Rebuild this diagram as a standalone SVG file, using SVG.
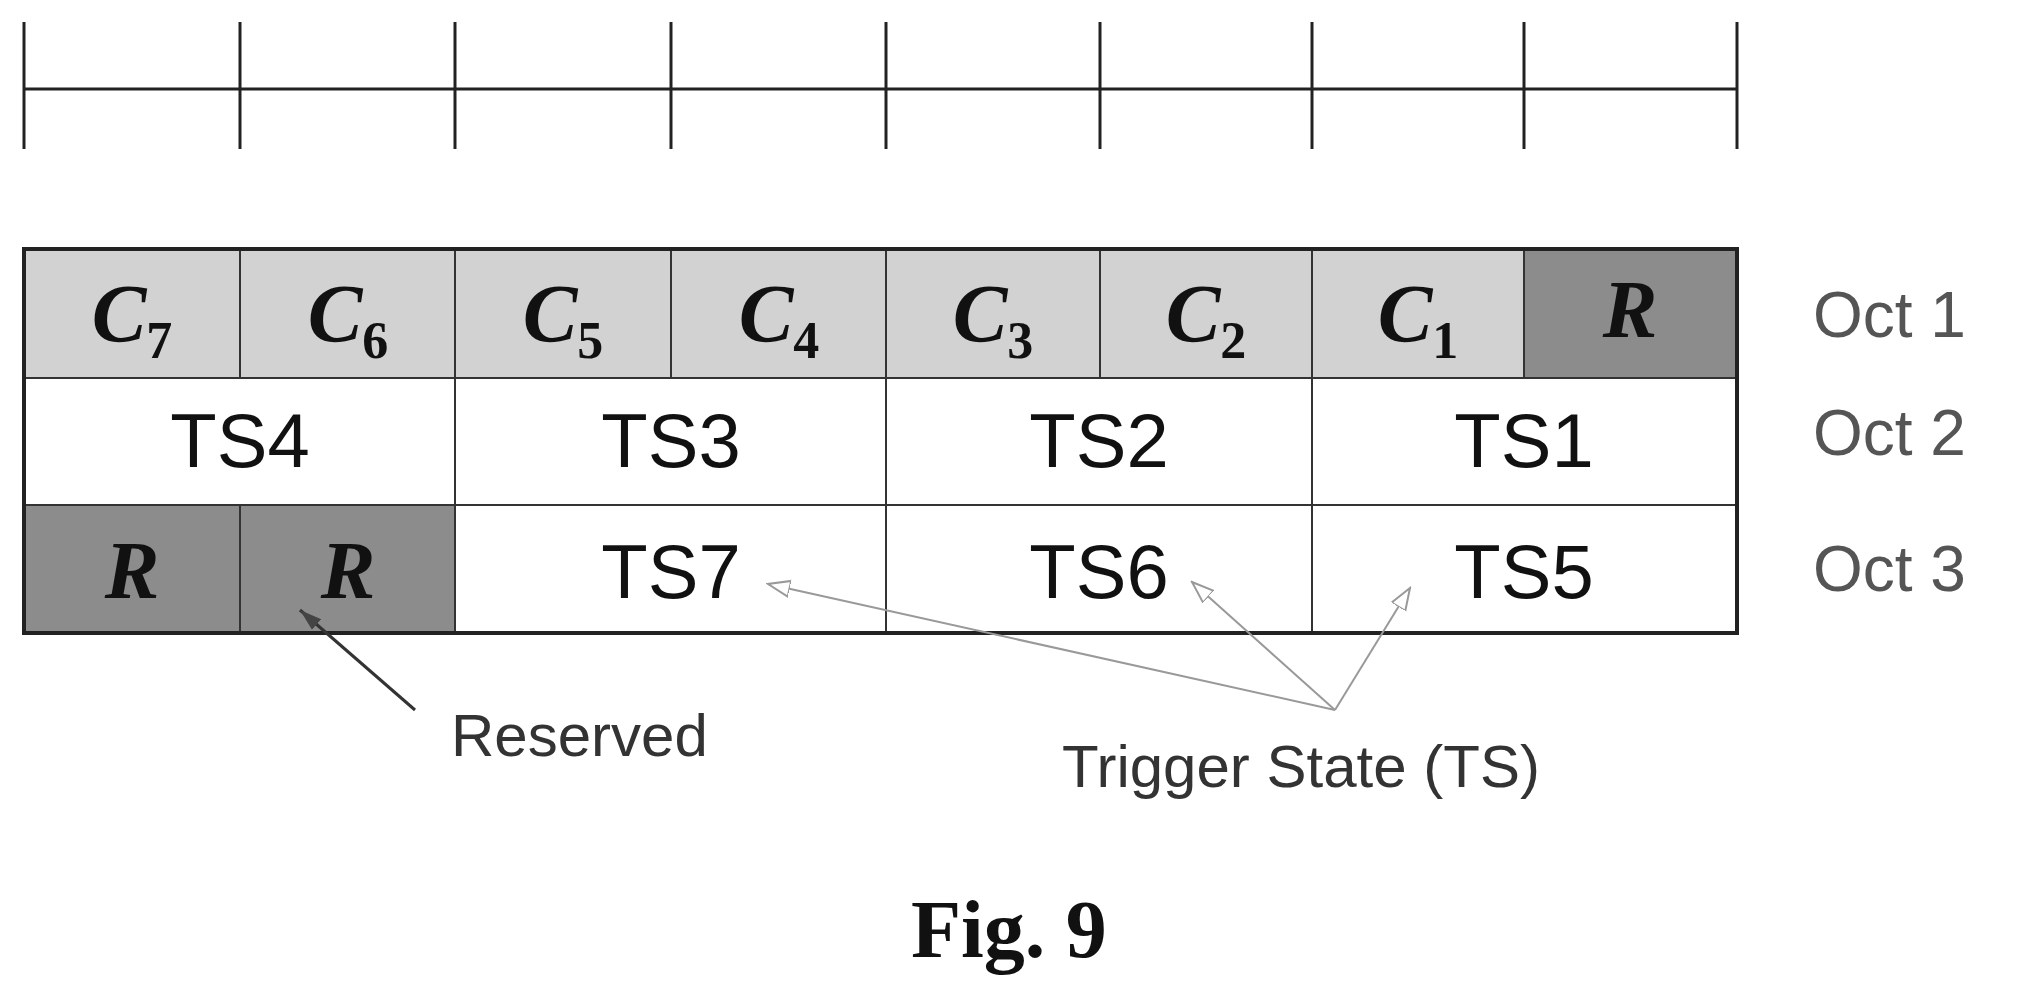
<svg xmlns="http://www.w3.org/2000/svg" width="2017" height="996" viewBox="0 0 2017 996">
<style>
.ln{stroke:#222;stroke-width:3;fill:none}
.lt{fill:#d2d2d2;stroke:#333;stroke-width:2}
.dk{fill:#8c8c8c;stroke:#333;stroke-width:2}
.wh{fill:#fff;stroke:#333;stroke-width:2}
.c{font-family:"Liberation Serif",serif;font-weight:bold;font-style:italic;font-size:82px;fill:#111;text-anchor:middle}
.sub{font-size:52px;font-style:normal}
.ts{font-family:"Liberation Sans",Arial,sans-serif;font-size:76px;fill:#111;text-anchor:middle}
.oct{font-family:"Liberation Sans",Arial,sans-serif;font-size:64px;fill:#555}
.lab{font-family:"Liberation Sans",Arial,sans-serif;font-size:60px;fill:#333}
.fig{font-family:"Liberation Serif",serif;font-weight:bold;font-size:82px;fill:#111}
</style>
<defs>
<marker id="ag" markerWidth="24" markerHeight="20" refX="22" refY="10" orient="auto" markerUnits="userSpaceOnUse"><path d="M0,2 L22,10 L0,18 z" fill="#fff" stroke="#999" stroke-width="2"/></marker>
<marker id="ak" markerWidth="24" markerHeight="20" refX="22" refY="10" orient="auto" markerUnits="userSpaceOnUse"><path d="M0,3 L22,10 L0,17 z" fill="#444"/></marker>
</defs>
<g id="ruler">
<line class="ln" x1="24" y1="89" x2="1737" y2="89"/>
<line class="ln" x1="24" y1="22" x2="24" y2="149"/>
<line class="ln" x1="240" y1="22" x2="240" y2="149"/>
<line class="ln" x1="455" y1="22" x2="455" y2="149"/>
<line class="ln" x1="671" y1="22" x2="671" y2="149"/>
<line class="ln" x1="886" y1="22" x2="886" y2="149"/>
<line class="ln" x1="1100" y1="22" x2="1100" y2="149"/>
<line class="ln" x1="1312" y1="22" x2="1312" y2="149"/>
<line class="ln" x1="1524" y1="22" x2="1524" y2="149"/>
<line class="ln" x1="1737" y1="22" x2="1737" y2="149"/>
</g>
<g id="oct1">
<rect class="lt" x="24" y="249" width="216" height="129"/>
<rect class="lt" x="240" y="249" width="215" height="129"/>
<rect class="lt" x="455" y="249" width="216" height="129"/>
<rect class="lt" x="671" y="249" width="215" height="129"/>
<rect class="lt" x="886" y="249" width="214" height="129"/>
<rect class="lt" x="1100" y="249" width="212" height="129"/>
<rect class="lt" x="1312" y="249" width="212" height="129"/>
<rect class="dk" x="1524" y="249" width="213" height="129"/>
<text class="c" x="132" y="341">C<tspan class="sub" dy="17">7</tspan></text>
<text class="c" x="348" y="341">C<tspan class="sub" dy="17">6</tspan></text>
<text class="c" x="563" y="341">C<tspan class="sub" dy="17">5</tspan></text>
<text class="c" x="779" y="341">C<tspan class="sub" dy="17">4</tspan></text>
<text class="c" x="993" y="341">C<tspan class="sub" dy="17">3</tspan></text>
<text class="c" x="1206" y="341">C<tspan class="sub" dy="17">2</tspan></text>
<text class="c" x="1418" y="341">C<tspan class="sub" dy="17">1</tspan></text>
<text class="c" x="1630" y="337">R</text>
<text class="oct" x="1813" y="337">Oct 1</text>
</g>
<g id="oct2">
<rect class="wh" x="24" y="378" width="431" height="127"/>
<rect class="wh" x="455" y="378" width="431" height="127"/>
<rect class="wh" x="886" y="378" width="426" height="127"/>
<rect class="wh" x="1312" y="378" width="425" height="127"/>
<text class="ts" x="240" y="467">TS4</text>
<text class="ts" x="671" y="467">TS3</text>
<text class="ts" x="1099" y="467">TS2</text>
<text class="ts" x="1524" y="467">TS1</text>
<text class="oct" x="1813" y="455">Oct 2</text>
</g>
<g id="oct3">
<rect class="dk" x="24" y="505" width="216" height="128"/>
<rect class="dk" x="240" y="505" width="215" height="128"/>
<rect class="wh" x="455" y="505" width="431" height="128"/>
<rect class="wh" x="886" y="505" width="426" height="128"/>
<rect class="wh" x="1312" y="505" width="425" height="128"/>
<text class="c" x="132" y="598">R</text>
<text class="c" x="348" y="598">R</text>
<text class="ts" x="671" y="598">TS7</text>
<text class="ts" x="1099" y="598">TS6</text>
<text class="ts" x="1524" y="598">TS5</text>
<text class="oct" x="1813" y="591">Oct 3</text>
</g>
<rect x="24" y="249" width="1713" height="384" fill="none" stroke="#222" stroke-width="4"/>
<g id="connectors">
<line x1="415" y1="710" x2="300" y2="610" stroke="#333" stroke-width="3" marker-end="url(#ak)"/>
<line x1="1335" y1="710" x2="768" y2="584" stroke="#999" stroke-width="2" marker-end="url(#ag)"/>
<line x1="1335" y1="710" x2="1192" y2="582" stroke="#999" stroke-width="2" marker-end="url(#ag)"/>
<line x1="1335" y1="710" x2="1410" y2="588" stroke="#999" stroke-width="2" marker-end="url(#ag)"/>
</g>
<g id="labels">
<text class="lab" x="451" y="756">Reserved</text>
<text class="lab" x="1062" y="787">Trigger State (TS)</text>
<text class="fig" x="911" y="957">Fig. 9</text>
</g>
</svg>
